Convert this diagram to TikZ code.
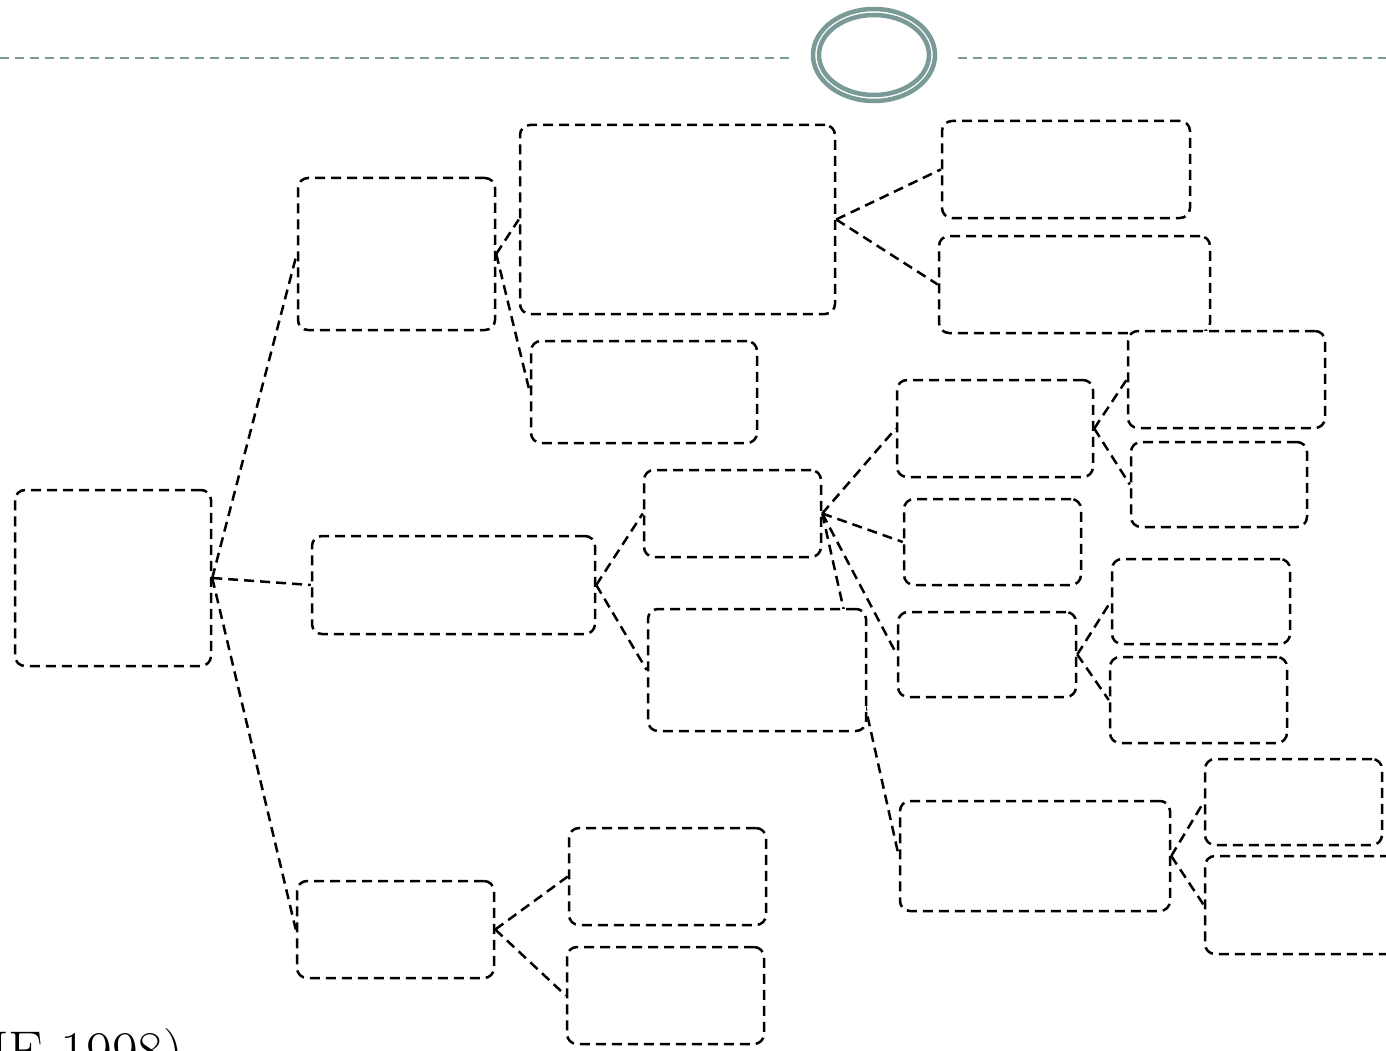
\documentclass[tikz,border=0pt]{standalone}
\usetikzlibrary{fit,shapes.geometric}
\definecolor{teal1}{HTML}{7A9A97}
\pgfdeclarelayer{bg}
\pgfsetlayers{bg,main}
\begin{document}
\begin{tikzpicture}[x=1pt,y=-1pt,
  bx/.style={draw=black, line width=2.5pt, dash pattern=on 10pt off 6pt, rounded corners=10pt, fill=white, inner sep=0pt},
  cn/.style={draw=black, line width=2.5pt, dash pattern=on 10pt off 6pt},
  hdr/.style={draw=teal1, line width=2pt, dash pattern=on 9pt off 6pt}]
\useasboundingbox (0,0) rectangle (1386,1051);
% header
\coordinate (h1) at (0,58);
\coordinate (h2) at (790,58);
\coordinate (h3) at (958,58);
\coordinate (h4) at (1386,58);
\draw[hdr] (h1) -- (h2);
\draw[hdr] (h3) -- (h4);
\node[draw=teal1, line width=4.5pt, ellipse, minimum width=122pt, minimum height=92pt, inner sep=0pt] (eo) at (874,55) {};
\node[draw=teal1, line width=4.5pt, ellipse, minimum width=110pt, minimum height=80pt, inner sep=0pt] (ei) at (874,55) {};
% boxes
\node[bx, fit={(15,490) (211,666)}] (root) {};
\node[bx, fit={(298,178) (495,330)}] (a) {};
\node[bx, fit={(520,125) (835,314)}] (b) {};
\node[bx, fit={(531,341) (757,443)}] (c) {};
\node[bx, fit={(942,121) (1190,218)}] (d) {};
\node[bx, fit={(939,236) (1210,333)}] (e) {};
\node[bx, fit={(1128,331) (1325,428)}] (j) {};
\node[bx, fit={(312,536) (595,634)}] (f) {};
\node[bx, fit={(644,470) (821,557)}] (g) {};
\node[bx, fit={(648,609) (866,731)}] (h) {};
\node[bx, fit={(897,380) (1093,477)}] (i) {};
\node[bx, fit={(1131,442) (1307,527)}] (k) {};
\node[bx, fit={(904,499) (1081,585)}] (l) {};
\node[bx, fit={(898,612) (1076,697)}] (m) {};
\node[bx, fit={(1112,559) (1290,644)}] (n) {};
\node[bx, fit={(1110,657) (1287,743)}] (o) {};
\node[bx, fit={(900,801) (1170,911)}] (p) {};
\node[bx, fit={(1205,759) (1382,845)}] (q) {};
\node[bx, fit={(1205,856) (1400,954)}] (r) {};
\node[bx, fit={(297,881) (494,978)}] (s) {};
\node[bx, fit={(569,828) (766,925)}] (t) {};
\node[bx, fit={(567,947) (764,1044)}] (u) {};
% connectors
\begin{pgfonlayer}{bg}
\fill[white] (0,0) rectangle (1386,1051);
\draw[cn] (root.east) -- (a.west);
\draw[cn] (root.east) -- (f.west);
\draw[cn] (root.east) -- (s.west);
\draw[cn] (a.east) -- (b.west);
\draw[cn] (a.east) -- (c.west);
\draw[cn] (b.east) -- (d.west);
\draw[cn] (b.east) -- (e.west);
\draw[cn] (f.east) -- (g.west);
\draw[cn] (f.east) -- (h.west);
\draw[cn] (g.east) -- (i.west);
\draw[cn] (g.east) -- (l.west);
\draw[cn] (g.east) -- (m.west);
\draw[cn] (g.east) -- (p.west);
\draw[cn] (i.east) -- (j.west);
\draw[cn] (i.east) -- (k.west);
\draw[cn] (m.east) -- (n.west);
\draw[cn] (m.east) -- (o.west);
\draw[cn] (p.east) -- (q.west);
\draw[cn] (p.east) -- (r.west);
\draw[cn] (s.east) -- (t.west);
\draw[cn] (s.east) -- (u.west);
\end{pgfonlayer}
% bottom text
\node[anchor=base west, inner sep=0pt, font=\fontsize{56}{60}\selectfont] (cite) at (-10,1070) {IE 1998)};
\end{tikzpicture}
\end{document}
